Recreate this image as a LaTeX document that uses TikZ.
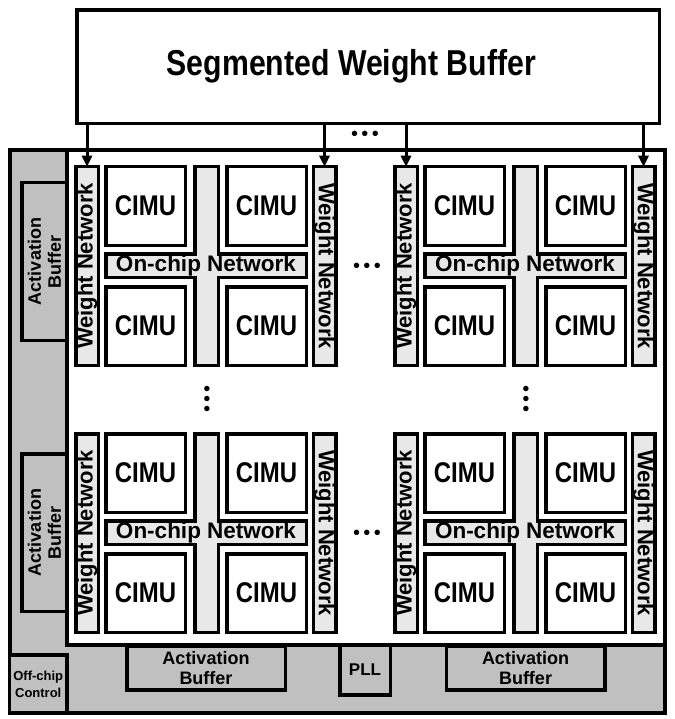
\documentclass[tikz,border=0pt]{standalone}
\usepackage{fontspec}
\setmainfont{Liberation Sans}
\newfontfamily\narrowsans[FakeStretch=0.84]{Liberation Sans}
\usetikzlibrary{arrows.meta, calc}

\definecolor{chipgray}{RGB}{192,192,192}
\definecolor{netgray}{RGB}{232,232,232}

\begin{document}
\begin{tikzpicture}[
  x=1pt, y=-1pt,
  % --- node styles ---
  blk/.style={
    draw, line width=3.5pt, inner sep=0pt, outer sep=0pt,
    align=center, font=\bfseries
  },
  wbuf/.style={
    blk, fill=white, minimum width=582.5pt, minimum height=113.5pt
  },
  cimu/.style={
    blk, fill=white, minimum width=79.5pt, minimum height=78.5pt,
    font=\narrowsans\bfseries\fontsize{28.5}{30}\selectfont
  },
  wnet/.style={
    blk, fill=netgray, minimum width=22.5pt, minimum height=198.5pt,
    font=\bfseries\fontsize{22}{24}\selectfont
  },
  vbar/.style={
    blk, fill=netgray, minimum width=23.5pt, minimum height=198.5pt
  },
  hbar/.style={
    blk, fill=netgray, minimum width=200.5pt, minimum height=23.5pt
  },
  noc/.style={
    inner sep=0pt, font=\bfseries\fontsize{22.5}{24}\selectfont
  },
  abuf/.style={
    blk, fill=chipgray, font=\bfseries\fontsize{18}{20}\selectfont
  },
  dots/.style={
    inner sep=0pt, font=\fontsize{20}{22}\selectfont
  },
  arr/.style={-{Triangle[length=11pt, width=10pt]}, line width=3pt},
]
\useasboundingbox (0,0) rectangle (674,719);

% ══════════════════════════════════════════════
% WEIGHT BUFFER AND CHIP
% ══════════════════════════════════════════════

\node[wbuf, label={[xshift=-17pt,
  font=\narrowsans\bfseries\fontsize{36}{38}\selectfont]
  center:Segmented Weight Buffer}] (wbuf) at (368.25,66.75) {};

\node[blk, line width=4pt, fill=chipgray,
  minimum width=655pt, minimum height=563pt] (chip) at (337,431.5) {};
\node[blk, fill=white,
  minimum width=597.5pt, minimum height=495pt] (core) at (365.75,397.5) {};

% activation buffers, PLL, control
\node[abuf, rotate=90, minimum width=157.5pt, minimum height=45.25pt]
  (abL1) at (44.4,261.5) {Activation\\Buffer};
\node[abuf, rotate=90, minimum width=157.5pt, minimum height=45.25pt]
  (abL2) at (44.4,532.5) {Activation\\Buffer};
\node[abuf, minimum width=158.5pt, minimum height=44.25pt]
  (abB1) at (206,668) {Activation\\Buffer};
\node[abuf, minimum width=158.5pt, minimum height=44.25pt]
  (abB2) at (525.5,668) {Activation\\Buffer};
\node[abuf, minimum width=50.5pt, minimum height=50.25pt,
  font=\bfseries\fontsize{17}{20}\selectfont] (pll) at (365,670) {PLL};
\node[abuf, minimum width=57.5pt, minimum height=58pt,
  font=\bfseries\fontsize{13}{17}\selectfont] (ctrl) at (38.25,684)
  {Off-chip\\Control};

% ══════════════════════════════════════════════
% TILE A (top left)
% ══════════════════════════════════════════════

\node[wnet] (wnA1) at (87,266) {\rotatebox{90}{Weight Network}};
\node[wnet] (wnA2) at (324.5,266) {\rotatebox{-90}{Weight Network}};
\node[vbar] (vA) at (206.5,266) {};
\node[hbar] (hA) at (206,265.5) {};
\fill[netgray] ($(vA.north west)+(1.75,1.75)$) rectangle ($(vA.south east)-(1.75,1.75)$);
\fill[netgray] ($(hA.north west)+(1.75,1.75)$) rectangle ($(hA.south east)-(1.75,1.75)$);
\node[noc] at (hA) {On-chip Network};
\node[cimu] (cA1) at (145.5,206) {CIMU};
\node[cimu] (cA2) at (266.5,206) {CIMU};
\node[cimu] (cA3) at (145.5,326) {CIMU};
\node[cimu] (cA4) at (266.5,326) {CIMU};

% ══════════════════════════════════════════════
% TILE B (top right)
% ══════════════════════════════════════════════

\node[wnet] (wnB1) at (406,266) {\rotatebox{90}{Weight Network}};
\node[wnet] (wnB2) at (643.5,266) {\rotatebox{-90}{Weight Network}};
\node[vbar] (vB) at (525.5,266) {};
\node[hbar] (hB) at (525,265.5) {};
\fill[netgray] ($(vB.north west)+(1.75,1.75)$) rectangle ($(vB.south east)-(1.75,1.75)$);
\fill[netgray] ($(hB.north west)+(1.75,1.75)$) rectangle ($(hB.south east)-(1.75,1.75)$);
\node[noc] at (hB) {On-chip Network};
\node[cimu] (cB1) at (464.5,206) {CIMU};
\node[cimu] (cB2) at (585.5,206) {CIMU};
\node[cimu] (cB3) at (464.5,326) {CIMU};
\node[cimu] (cB4) at (585.5,326) {CIMU};

% ══════════════════════════════════════════════
% TILE C (bottom left)
% ══════════════════════════════════════════════

\node[wnet] (wnC1) at (87,533) {\rotatebox{90}{Weight Network}};
\node[wnet] (wnC2) at (324.5,533) {\rotatebox{-90}{Weight Network}};
\node[vbar] (vC) at (206.5,533) {};
\node[hbar] (hC) at (206,532.5) {};
\fill[netgray] ($(vC.north west)+(1.75,1.75)$) rectangle ($(vC.south east)-(1.75,1.75)$);
\fill[netgray] ($(hC.north west)+(1.75,1.75)$) rectangle ($(hC.south east)-(1.75,1.75)$);
\node[noc] at (hC) {On-chip Network};
\node[cimu] (cC1) at (145.5,473) {CIMU};
\node[cimu] (cC2) at (266.5,473) {CIMU};
\node[cimu] (cC3) at (145.5,593) {CIMU};
\node[cimu] (cC4) at (266.5,593) {CIMU};

% ══════════════════════════════════════════════
% TILE D (bottom right)
% ══════════════════════════════════════════════

\node[wnet] (wnD1) at (406,533) {\rotatebox{90}{Weight Network}};
\node[wnet] (wnD2) at (643.5,533) {\rotatebox{-90}{Weight Network}};
\node[vbar] (vD) at (525.5,533) {};
\node[hbar] (hD) at (525,532.5) {};
\fill[netgray] ($(vD.north west)+(1.75,1.75)$) rectangle ($(vD.south east)-(1.75,1.75)$);
\fill[netgray] ($(hD.north west)+(1.75,1.75)$) rectangle ($(hD.south east)-(1.75,1.75)$);
\node[noc] at (hD) {On-chip Network};
\node[cimu] (cD1) at (464.5,473) {CIMU};
\node[cimu] (cD2) at (585.5,473) {CIMU};
\node[cimu] (cD3) at (464.5,593) {CIMU};
\node[cimu] (cD4) at (585.5,593) {CIMU};

% ══════════════════════════════════════════════
% ELLIPSES
% ══════════════════════════════════════════════

\node[dots] (dtop) at (365,136) {\textbullet\,\textbullet\,\textbullet};
\node[dots] (dup) at (367,268) {\textbullet\,\textbullet\,\textbullet};
\node[dots] (dlow) at (367,535) {\textbullet\,\textbullet\,\textbullet};
\node[dots, rotate=90] (dleft) at (209,399) {\textbullet\,\textbullet\,\textbullet};
\node[dots, rotate=90] (dright) at (528,399) {\textbullet\,\textbullet\,\textbullet};

% ══════════════════════════════════════════════
% WEIGHT BUFFER → WEIGHT NETWORKS
% ══════════════════════════════════════════════

\draw[arr] (wbuf.south -| wnA1.north) -- (wnA1.north);
\draw[arr] (wbuf.south -| wnA2.north) -- (wnA2.north);
\draw[arr] (wbuf.south -| wnB1.north) -- (wnB1.north);
\draw[arr] (wbuf.south -| wnB2.north) -- (wnB2.north);

\end{tikzpicture}
\end{document}
